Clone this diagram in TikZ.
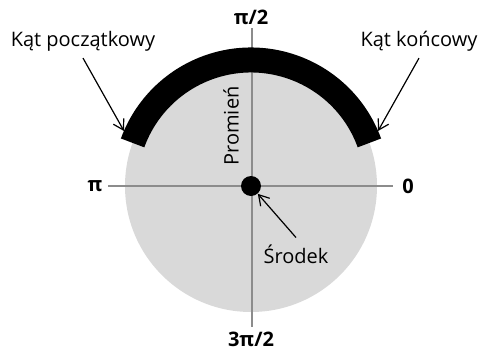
\documentclass[tikz,border=0pt]{standalone}
\usepackage{fontspec}
\setmainfont{Open Sans}
\usepackage{tikz}
\usetikzlibrary{arrows.meta,positioning}

\begin{document}
\begin{tikzpicture}[
    x=0.5pt, y=0.5pt,
    font=\fontsize{10}{12}\selectfont,
    axis/.style={draw=black!45, line width=0.6pt},
    angletxt/.style={font=\fontsize{10}{12}\selectfont\bfseries},
    arrow/.style={-{Straight Barb[length=5pt,width=6pt]}, line width=0.6pt}
]
    \useasboundingbox (0,0) rectangle (478,350);

    % Disc
    \coordinate (O) at (251,164);
    \fill[black!15] (O) circle (126);

    % Axes
    \coordinate (xl) at (108,164);
    \coordinate (xr) at (393,164);
    \coordinate (yt) at (252,322);
    \coordinate (yb) at (252,23);
    \draw[axis] (xl) -- (xr);
    \draw[axis] (yt) -- (yb);

    % Arc
    \draw[line width=12.5pt] (O) ++(20:126) arc (20:160:126);

    % Centre
    \node[circle, fill, minimum size=10pt, inner sep=0pt] (srodek) at (O) {};

    % Angle labels
    \node[angletxt] (pihalf) at (251,333) {π/2};
    \node[angletxt] (threepihalf) at (251,11) {3π/2};
    \node[angletxt] (pi) at (95,164) {π};
    \node[angletxt] (zero) at (408,164) {0};

    % Texts
    \node (poczatek) at (83,309) {Kąt początkowy};
    \node (koniec) at (419,309) {Kąt końcowy};
    \node (srodektxt) at (296,96) {Środek};
    \node[rotate=90] (promien) at (231,224) {Promień};

    % Arrows
    \coordinate (arcstart) at (124,219);
    \coordinate (arcend) at (378,219);
    \draw[arrow] (poczatek.south) -- (arcstart);
    \draw[arrow] (koniec.south) -- (arcend);
    \draw[arrow] (srodektxt.north) -- (srodek);

\end{tikzpicture}
\end{document}
